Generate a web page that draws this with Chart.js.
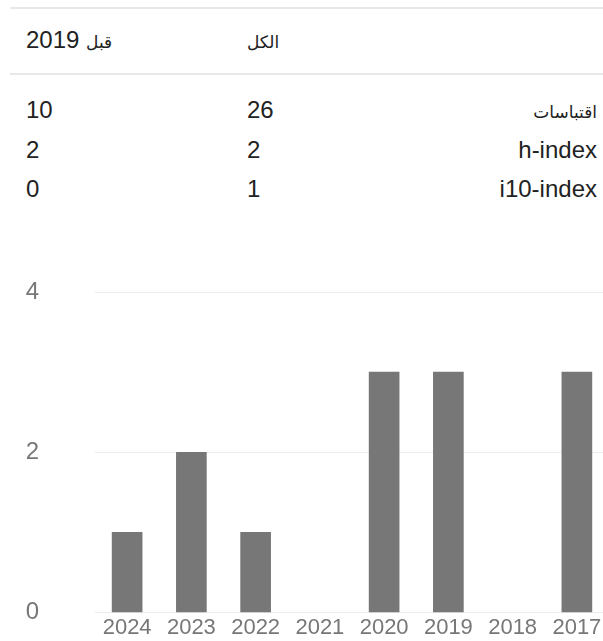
<!DOCTYPE html>
<html>
<head>
<meta charset="utf-8">
<script src="https://cdn.jsdelivr.net/npm/chart.js@4/dist/chart.umd.min.js"></script>
<style>
  html, body { margin:0; padding:0; width:603px; height:641px; overflow:hidden; background:#fff; }
  body { position:relative; font-family:"Liberation Sans", Arial, "DejaVu Sans", sans-serif; color:#222; }
  .line { position:absolute; left:10px; width:593px; height:2px; background:#e8e8e8; }
  .cell { position:absolute; height:30px; line-height:30px; font-size:24px; white-space:nowrap; }
  .ar { font-family:"DejaVu Sans", sans-serif; font-size:17px; }
  #wrap { position:absolute; left:0; top:270px; width:609px; height:373px; }
  canvas { display:block; }
</style>
</head>
<body>
<div class="line" style="top:7px"></div>
<div class="line" style="top:73px"></div>
<div id="table"></div>
<div id="wrap"><canvas id="c" width="609" height="373"></canvas></div>
<script>
// ---- data ----
const colHeaders = ['الكل', 'قبل 2019'];
const statLabels = ['اقتباسات', 'h-index', 'i10-index'];
const statAll = [26, 2, 1];
const statSince = [10, 2, 0];
const years = ['2017', '2018', '2019', '2020', '2021', '2022', '2023', '2024'];
const citations = [3, 0, 3, 3, 0, 1, 2, 1];
const yTickValues = [0, 2, 4];

// ---- table ----
const t = document.getElementById('table');
function isArabic(s){ return /[\u0600-\u06FF]/.test(s); }
function richText(s){
  return s.split(' ').map(w => isArabic(w) ? '<span class="ar">'+w+'</span>' : w).join(' ');
}
function cell(text, css){
  const d = document.createElement('div');
  d.className = 'cell';
  d.setAttribute('dir', isArabic(text) ? 'rtl' : 'ltr');
  d.innerHTML = richText(String(text));
  Object.assign(d.style, css);
  t.appendChild(d);
}
const headerY = 40, rowY = [110, 150, 189];
cell(colHeaders[0], {left:'247px', top:(headerY-15)+'px'});
cell(colHeaders[1], {left:'26px', top:(headerY-15)+'px'});
statLabels.forEach((lab, i) => {
  cell(lab, {right:'6px', top:(rowY[i]-15)+'px', textAlign:'right'});
  cell(statAll[i], {left:'247px', top:(rowY[i]-15)+'px'});
  cell(statSince[i], {left:'26px', top:(rowY[i]-15)+'px'});
});

// ---- chart ----
new Chart(document.getElementById('c'), {
  type: 'bar',
  data: {
    labels: years,
    datasets: [{
      data: citations,
      backgroundColor: ctx => (ctx.raw === 0 ? 'rgba(0,0,0,0)' : '#777777'),
      borderWidth: 0,
      barThickness: 30
    }]
  },
  options: {
    responsive: false,
    devicePixelRatio: 1,
    animation: false,
    layout: { padding: { top: 22, right: 0, bottom: 0, left: 0 } },
    plugins: { legend: { display: false }, tooltip: { enabled: false } },
    scales: {
      x: {
        reverse: true,
        grid: { display: false, drawTicks: false },
        border: { display: false },
        ticks: {
          color: '#777',
          font: { family: '"Liberation Sans", Arial, sans-serif', size: 22 },
          padding: 2,
          maxRotation: 0,
          autoSkip: false
        }
      },
      y: {
        min: 0,
        max: 4,
        afterBuildTicks: s => { s.ticks = yTickValues.map(v => ({ value: v })); },
        afterFit: s => { s.width = 95; s.paddingTop = 0; s.paddingBottom = 0; },
        grid: { color: '#ececec', lineWidth: 1, drawTicks: false },
        border: { display: false },
        ticks: {
          color: '#777',
          font: { family: '"Liberation Sans", Arial, sans-serif', size: 24 },
          padding: 56
        }
      }
    }
  }
});
</script>
</body>
</html>
